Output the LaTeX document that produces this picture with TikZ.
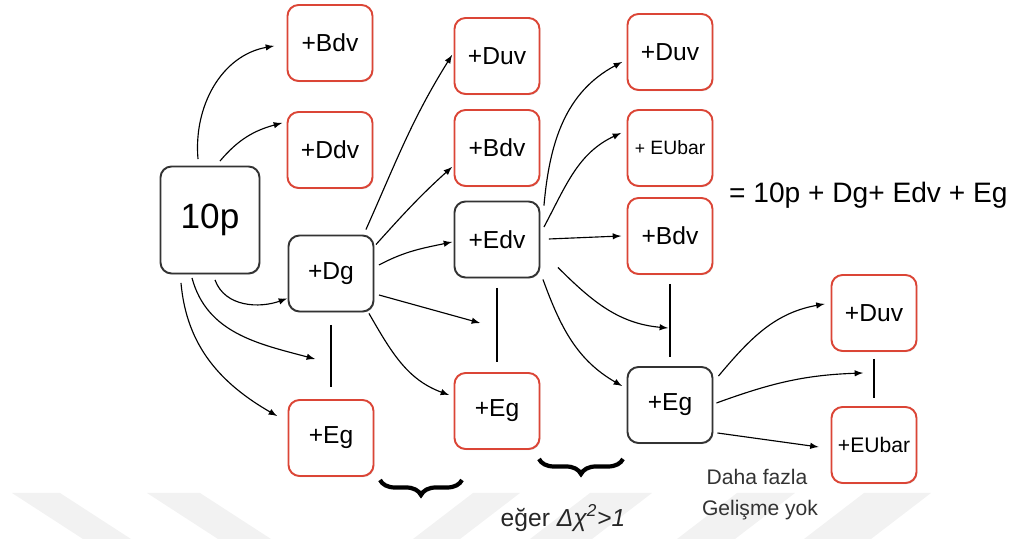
\documentclass[tikz,border=0pt]{standalone}
\usepackage{fontspec}
\setmainfont{Liberation Sans}
\usetikzlibrary{shadows,decorations.pathreplacing}
\definecolor{boxred}{rgb}{0.86, 0.27, 0.21}
\definecolor{boxdark}{rgb}{0.2, 0.2, 0.2}
\definecolor{markgray}{rgb}{0.95, 0.95, 0.95}
\tikzstyle{box} = [rectangle, rounded corners=0.22cm, minimum width=1.7cm, minimum height=1.52cm, inner sep=0, line width=1.1pt, fill=white, font=\fontsize{14}{16}\selectfont, drop shadow={shadow xshift=0.5pt, shadow yshift=-0.6pt, opacity=0.3}]
\tikzstyle{leaf} = [box, draw=boxred]
\tikzstyle{keep} = [box, draw=boxdark]
\tikzstyle{arr} = [->, >=latex, line width=0.65pt]
\tikzstyle{bar} = [line width=0.8pt]
\tikzstyle{bigbrace} = [decorate, decoration={brace, mirror, amplitude=0.3cm}, line width=2.4pt]

\begin{document}
\begin{tikzpicture}
\useasboundingbox (0,0) rectangle (20.18,10.78);

% Watermark bands
\foreach \xa/\xb/\dx in {0.24/1.2/1.42, 2.94/4.0/1.42, 9.46/10.4/-1.2, 11.8/13.04/-1.2, 14.74/15.9/-1.2, 17.28/18.62/-1.2}
    \fill[markgray] (\xa,0.92) -- (\xb,0.92) -- ++(\dx,-0.92) -- ++({\xa-\xb},0) -- cycle;

% Start: 10p
\node (p10) at (4.2,6.38) [keep, minimum width=1.98cm, minimum height=2.14cm, font=\fontsize{20}{24}\selectfont] {10p};

% Column 1
\node (bdvA) at (6.6,9.92) [leaf] {+Bdv};
\node (ddv) at (6.6,7.78) [leaf] {+Ddv};
\node (dg) at (6.62,5.31) [keep] {+Dg};
\node (egA) at (6.62,2.02) [leaf] {+Eg};

% Column 2
\node (duvB) at (9.94,9.66) [leaf] {+Duv};
\node (bdvB) at (9.94,7.82) [leaf] {+Bdv};
\node (edv) at (9.94,5.99) [keep] {+Edv};
\node (egB) at (9.94,2.56) [leaf] {+Eg};

% Column 3
\node (duvC) at (13.4,9.74) [leaf] {+Duv};
\node (eubarC) at (13.4,7.82) [leaf, font=\fontsize{11}{13}\selectfont] {{\fontsize{10}{12}\selectfont+} EUbar};
\node (bdvC) at (13.4,6.06) [leaf] {+Bdv};
\node (egC) at (13.4,2.68) [keep] {+Eg};

% Column 4
\node (duvD) at (17.48,4.52) [leaf] {+Duv};
\node (eubarD) at (17.48,1.88) [leaf, font=\fontsize{12}{14}\selectfont] {+EUbar};

% Arrow ends on the or-lines
\coordinate (jA) at (6.3,3.6);
\coordinate (jB) at (9.6,4.32);
\coordinate (jC) at (13.36,4.22);
\coordinate (jD) at (17.26,3.32);

% Or-lines
\draw[bar, shorten <=0.25cm, shorten >=0.25cm] (dg) -- (egA);
\draw[bar, shorten <=0.19cm, shorten >=0.21cm] (edv) -- (egB);
\draw[bar, shorten <=0.18cm, shorten >=0.18cm] (bdvC) -- (egC);
\draw[bar, shorten <=0.14cm, shorten >=0.16cm] (duvD) -- (eubarD);

% Arrows from 10p
\draw[arr] ([xshift=-0.24cm,yshift=0.13cm]p10.north) to[out=95,in=190] ([xshift=-0.25cm,yshift=-0.06cm]bdvA.west);
\draw[arr] ([xshift=0.2cm,yshift=0.09cm]p10.north) to[out=50,in=195] ([xshift=-0.09cm,yshift=0.54cm]ddv.west);
\draw[arr] ([xshift=0.1cm,yshift=-0.11cm]p10.south) to[out=-70,in=200] ([xshift=-0.01cm,yshift=-0.5cm]dg.west);
\draw[arr] ([xshift=-0.36cm,yshift=-0.07cm]p10.south) to[out=-75,in=165] (jA);
\draw[arr] ([xshift=-0.58cm,yshift=-0.17cm]p10.south) to[out=-85,in=150] ([xshift=-0.21cm,yshift=0.44cm]egA.west);

% Arrows from +Dg
\draw[arr] ([xshift=-0.17cm,yshift=0.1cm]dg.north east) to[out=66,in=238] ([xshift=-0.03cm,yshift=0.02cm]duvB.west);
\draw[arr] ([xshift=0.03cm,yshift=-0.2cm]dg.north east) to[out=48,in=222] ([xshift=-0.03cm,yshift=-0.38cm]bdvB.west);
\draw[arr] ([xshift=0.09cm,yshift=0.17cm]dg.east) to[out=28,in=192] ([xshift=-0.03cm,yshift=-0.05cm]edv.west);
\draw[arr] ([xshift=0.09cm,yshift=-0.43cm]dg.east) -- (jB);
\draw[arr] ([xshift=-0.11cm,yshift=-0.02cm]dg.south east) to[out=-60,in=160] ([xshift=-0.09cm,yshift=0.32cm]egB.west);

% Arrows from +Edv
\draw[arr] ([xshift=0.07cm,yshift=-0.1cm]edv.north east) to[out=85,in=208] ([xshift=-0.09cm,yshift=-0.2cm]duvC.west);
\draw[arr] ([xshift=0.07cm,yshift=0.25cm]edv.east) to[out=62,in=205] ([xshift=-0.11cm,yshift=0.3cm]eubarC.west);
\draw[arr] ([xshift=0.17cm,yshift=0.01cm]edv.east) -- ([xshift=-0.11cm]bdvC.west);
\draw[arr] ([xshift=0.35cm,yshift=0.22cm]edv.south east) to[out=-45,in=175] (jC);
\draw[arr] ([xshift=0.05cm,yshift=-0.02cm]edv.south east) to[out=-70,in=150] ([xshift=-0.09cm,yshift=0.38cm]egC.west);

% Arrows from +Eg
\draw[arr] ([xshift=0.1cm,yshift=-0.2cm]egC.north east) to[out=50,in=190] ([xshift=-0.12cm,yshift=0.18cm]duvD.west);
\draw[arr] ([xshift=0.06cm,yshift=0.04cm]egC.east) to[out=20,in=182] (jD);
\draw[arr] ([xshift=0.08cm,yshift=-0.56cm]egC.east) -- ([xshift=-0.24cm,yshift=-0.04cm]eubarD.west);

% Result and notes
\node (sum) at (14.46,6.88) [anchor=west, font=\fontsize{16}{19}\selectfont] {= 10p + Dg+ Edv + Eg};
\draw[bigbrace] (7.6,1.18) -- (9.24,1.18);
\draw[bigbrace] (10.78,1.6) -- (12.46,1.6);
\node (cond) at (11.26,0.42) [font=\fontsize{14}{17}\selectfont, text=black!85] {eğer {\itshape Δχ\textsuperscript{2}>1}};
\node (daha) at (15.14,1.24) [font=\fontsize{12}{14}\selectfont, text=black!80] {Daha fazla};
\node (gelisme) at (15.2,0.58) [font=\fontsize{12}{14}\selectfont, text=black!80] {Gelişme yok};

\end{tikzpicture}
\end{document}
